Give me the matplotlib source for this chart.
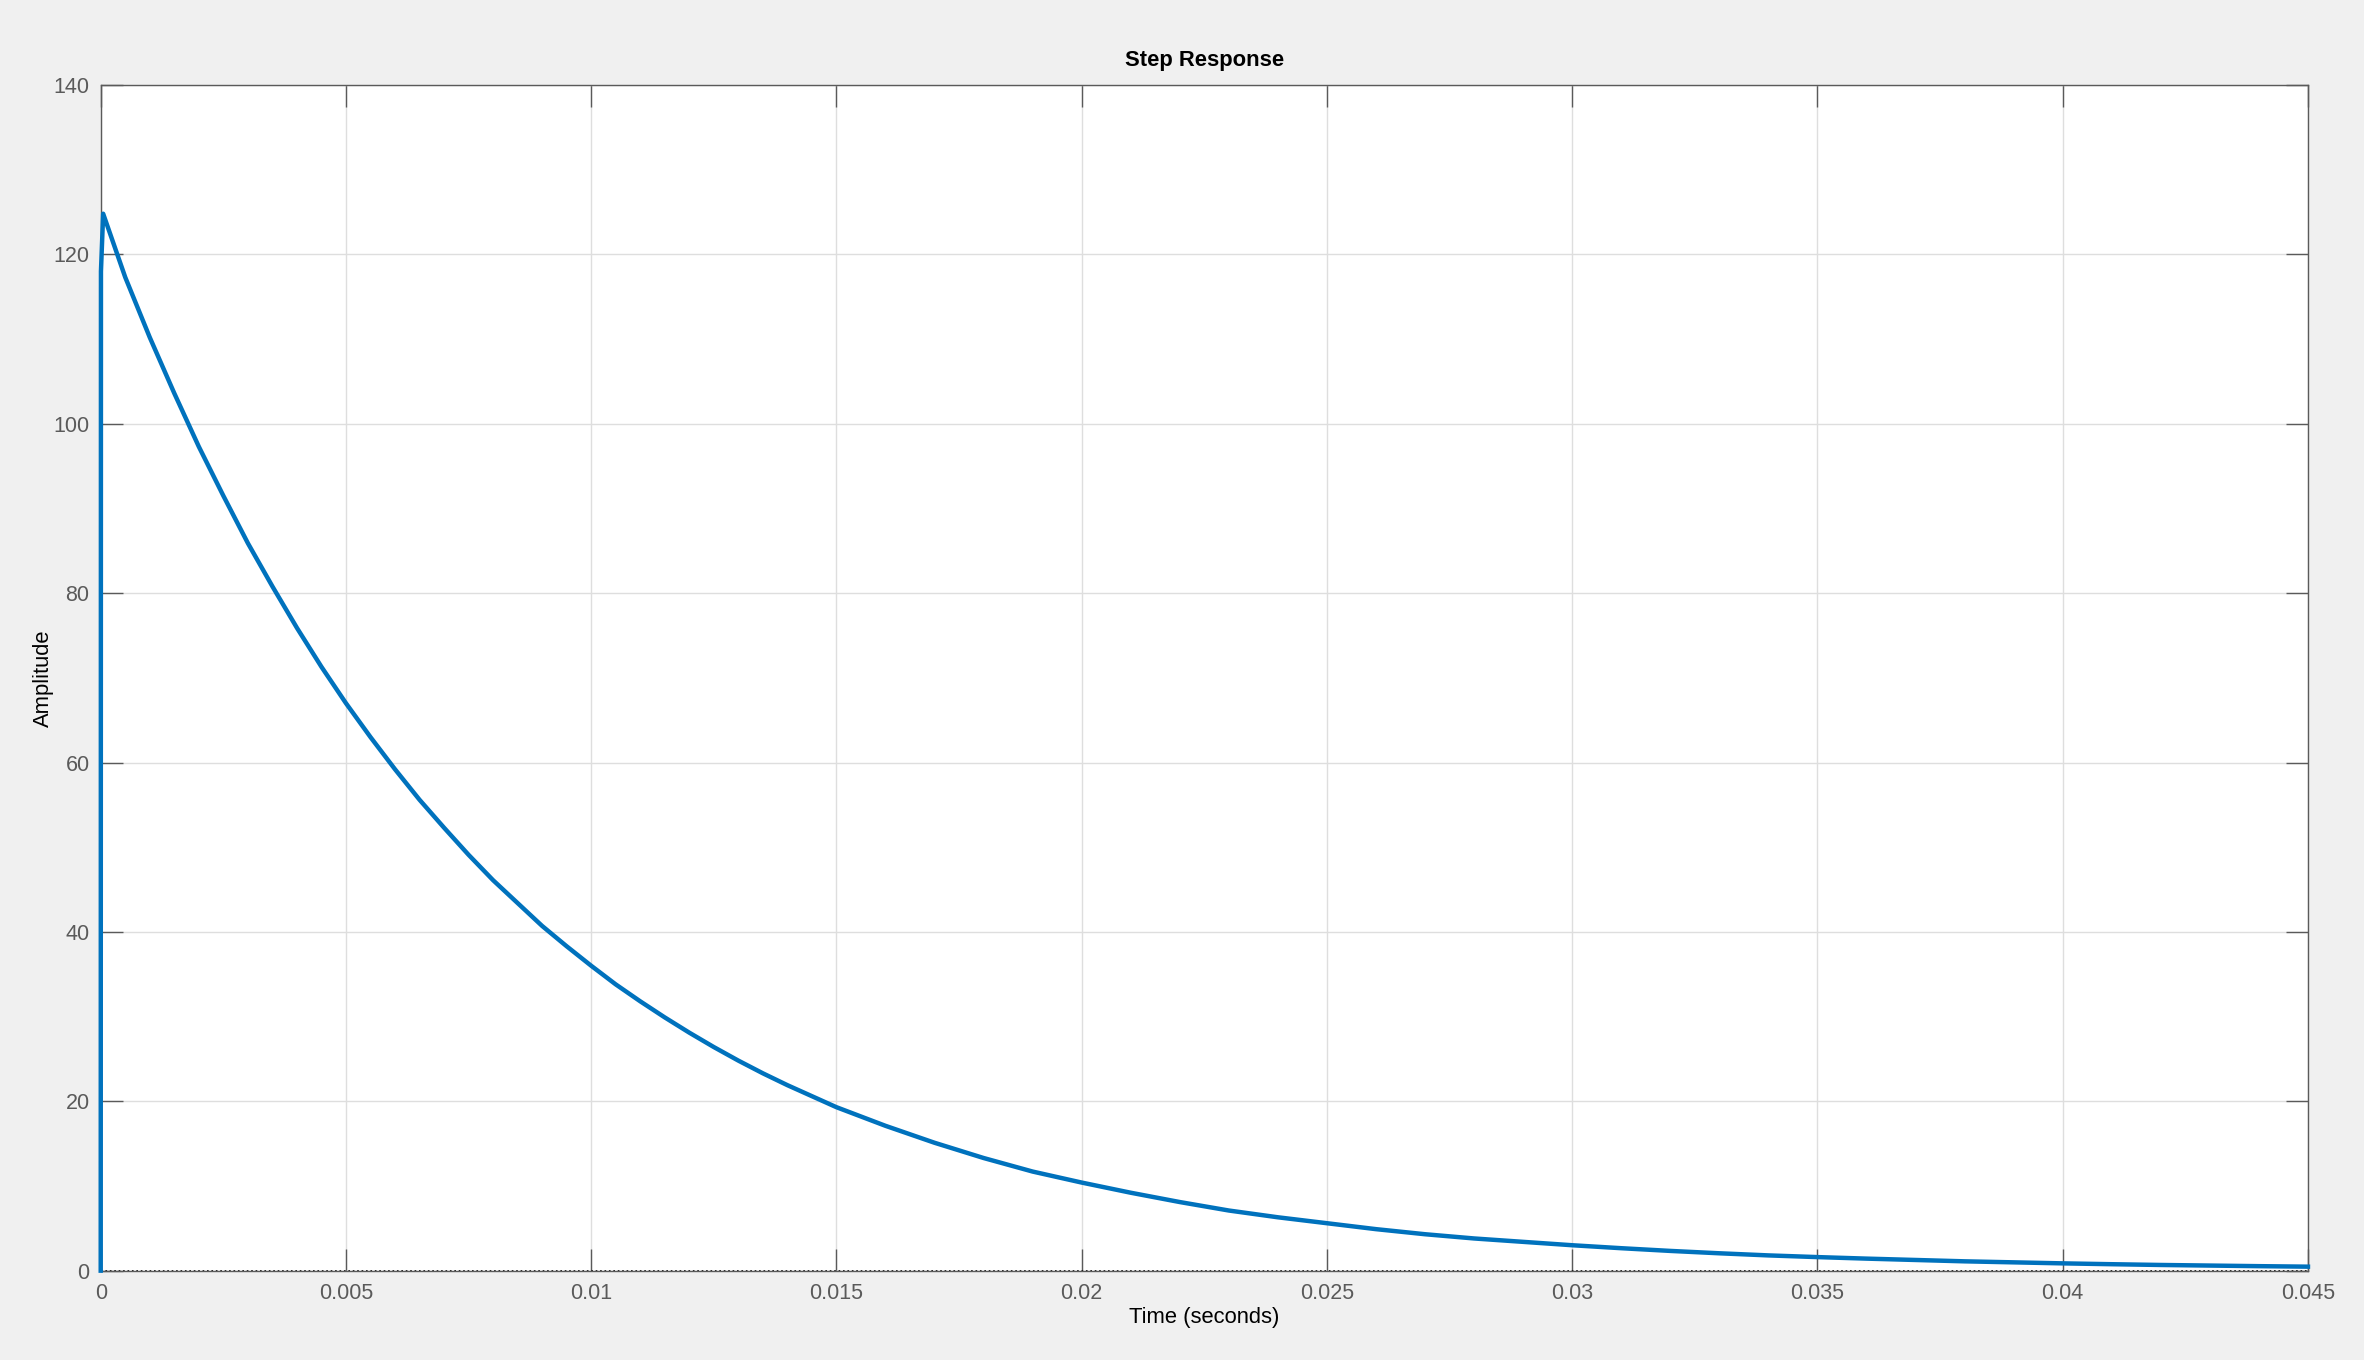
"""
Step response plot (MATLAB-style look)
"""
import numpy as np
import matplotlib
matplotlib.use('Agg')
import matplotlib.pyplot as plt

plt.rcParams.update({
    'font.family': ['Liberation Sans', 'DejaVu Sans'],
    'font.size': 15.5,
})

# values
t = [0.0, 0.000005, 0.00005, 0.0005, 0.001, 0.0015, 0.002, 0.0025, 0.003, 0.0035,
     0.004, 0.0045, 0.005, 0.0055, 0.006, 0.0065, 0.007, 0.0075, 0.008, 0.0085,
     0.009, 0.0095, 0.010, 0.0105, 0.011, 0.0115, 0.012, 0.0125, 0.013, 0.0135,
     0.014, 0.0145, 0.015, 0.016, 0.017, 0.018, 0.019, 0.020, 0.021, 0.022,
     0.023, 0.024, 0.025, 0.026, 0.027, 0.028, 0.029, 0.030, 0.031, 0.032,
     0.033, 0.034, 0.035, 0.036, 0.037, 0.038, 0.039, 0.040, 0.041, 0.042,
     0.043, 0.044, 0.045]
amp = [0.0, 118.0, 124.8, 117.3, 110.2, 103.6, 97.3, 91.5, 85.9, 80.8,
       75.9, 71.3, 67.0, 63.0, 59.2, 55.6, 52.3, 49.1, 46.1, 43.4,
       40.7, 38.3, 36.0, 33.8, 31.8, 29.9, 28.1, 26.4, 24.8, 23.3,
       21.9, 20.6, 19.3, 17.1, 15.1, 13.3, 11.7, 10.4, 9.2, 8.1,
       7.1, 6.3, 5.6, 4.9, 4.3, 3.8, 3.4, 3.0, 2.65, 2.33,
       2.05, 1.8, 1.6, 1.42, 1.26, 1.1, 0.98, 0.86, 0.76, 0.67,
       0.60, 0.53, 0.47]
final_value = 0.0

xticks = [0, 0.005, 0.01, 0.015, 0.02, 0.025, 0.03, 0.035, 0.04, 0.045]
xlabels = ['0', '0.005', '0.01', '0.015', '0.02', '0.025', '0.03', '0.035', '0.04', '0.045']
yticks = [0, 20, 40, 60, 80, 100, 120, 140]

BLUE = '#0072BD'
AX = '#5a5a5a'

fig = plt.figure(figsize=(23.64, 13.60), dpi=100, facecolor='#f0f0f0')
ax = fig.add_axes([0.0426, 0.0657, 0.9337, 0.8718])
ax.set_facecolor('white')

ax.plot([0, 0.045], [final_value, final_value], color='k', ls=':', lw=1.2, zorder=2)
ax.plot(t, amp, color=BLUE, lw=3.2, zorder=3, clip_on=False, solid_joinstyle='round')

ax.set_xlim(0, 0.045); ax.set_ylim(0, 140)
ax.set_xticks(xticks); ax.set_xticklabels(xlabels)
ax.set_yticks(yticks)
ax.grid(True, color='#dedede', lw=1.0, zorder=0)
ax.set_axisbelow(True)
ax.tick_params(direction='in', length=15.5, width=1.0, colors=AX, labelsize=15.5,
               top=True, right=True, pad=8)
ax.tick_params(axis='x', pad=9)
for s in ax.spines.values():
    s.set_color(AX); s.set_linewidth(1.0)

ax.set_xlabel('Time (seconds)', fontsize=15.8, color='black', labelpad=2)
ax.set_ylabel('Amplitude', fontsize=15.8, color='black', labelpad=0)
ax.set_title('Step Response', fontsize=15.8, fontweight='bold', pad=14)

fig.savefig('out.png', facecolor=fig.get_facecolor())
